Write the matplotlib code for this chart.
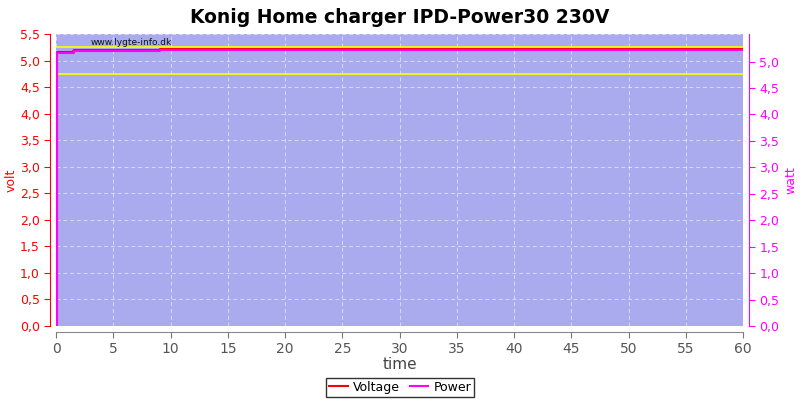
import matplotlib
matplotlib.use("Agg")
import matplotlib.pyplot as plt
from matplotlib.ticker import FuncFormatter
import numpy as np

time = [0, 0.05, 1.5, 1.6, 9.0, 9.1, 60]
voltage = [0, 5.17, 5.18, 5.19, 5.19, 5.21, 5.21]
time_p = [0, 0.05, 1.5, 1.6, 9.0, 9.1, 60]
power = [0, 5.16, 5.17, 5.19, 5.20, 5.21, 5.21]
limits = [5.25, 4.75]

comma = FuncFormatter(lambda v, p: f"{v:.1f}".replace('.', ','))

fig = plt.figure(figsize=(8, 4), dpi=100)
ax = fig.add_axes([0.07, 0.185, 0.859, 0.73])
ax2 = ax.twinx()

ax.spines['left'].set_position(('outward', 4))
ax.spines['bottom'].set_position(('outward', 4))
ax2.spines['right'].set_position(('outward', 4))

ax.set_facecolor('#aaaaee')
for v in limits:
    ax.axhline(v, color='#ffff00', lw=1.2, zorder=2)
ax.plot(time, voltage, color='#ff0000', lw=1.5, drawstyle='steps-post', zorder=3, label='Voltage')
ax2.plot(time_p, power, color='#ff00ff', lw=1.5, drawstyle='steps-post', zorder=3, label='Power')

ax.set_xlim(0, 60)
ax.set_ylim(0, 5.5)
ax2.set_ylim(0, 5.52)
ax.set_xticks(np.arange(0, 61, 5))
ax.set_yticks(np.arange(0, 5.51, 0.5))
ax.yaxis.set_major_formatter(comma)
ax2.set_yticks(np.arange(0, 5.01, 0.5))
ax2.yaxis.set_major_formatter(comma)
ax.grid(True, color='white', ls=(0, (4, 3)), lw=0.7, alpha=0.55)
ax.set_axisbelow(True)

ax.tick_params(axis='y', colors='#ff0000', labelsize=9, direction='out', length=4)
ax.tick_params(axis='x', colors='#777777', labelsize=10, labelcolor='#555555', length=4)
ax2.tick_params(axis='y', colors='#ff00ff', labelsize=9, direction='out', length=4)
ax.spines['left'].set_color('#ff0000')
ax2.spines['left'].set_visible(False)
ax2.spines['right'].set_color('#ff00ff')
for a in (ax, ax2):
    a.spines['top'].set_visible(False)
ax.spines['right'].set_visible(False)
ax.spines['bottom'].set_color('#888888')
ax2.spines['bottom'].set_visible(False)

ax.set_ylabel('volt', color='#ff0000', fontsize=9, labelpad=2)
ax2.set_ylabel('watt', color='#ff00ff', fontsize=9, labelpad=4)
ax.set_xlabel('time', color='#444444', fontsize=11, labelpad=1)
fig.suptitle('Konig Home charger IPD-Power30 230V', fontsize=13.5, fontweight='bold', y=0.98)
ax.text(0.05, 0.985, 'www.lygte-info.dk', transform=ax.transAxes, fontsize=6.5, va='top', color='#111111', zorder=5)

h1, l1 = ax.get_legend_handles_labels()
h2, l2 = ax2.get_legend_handles_labels()
fig.legend(h1 + h2, l1 + l2, loc='lower center', ncol=2, bbox_to_anchor=(0.5, -0.008),
           frameon=True, fancybox=False, edgecolor='black', fontsize=9, handlelength=1.5,
           columnspacing=0.8, handletextpad=0.4, borderpad=0.25)
fig.savefig('out.png', dpi=100)
